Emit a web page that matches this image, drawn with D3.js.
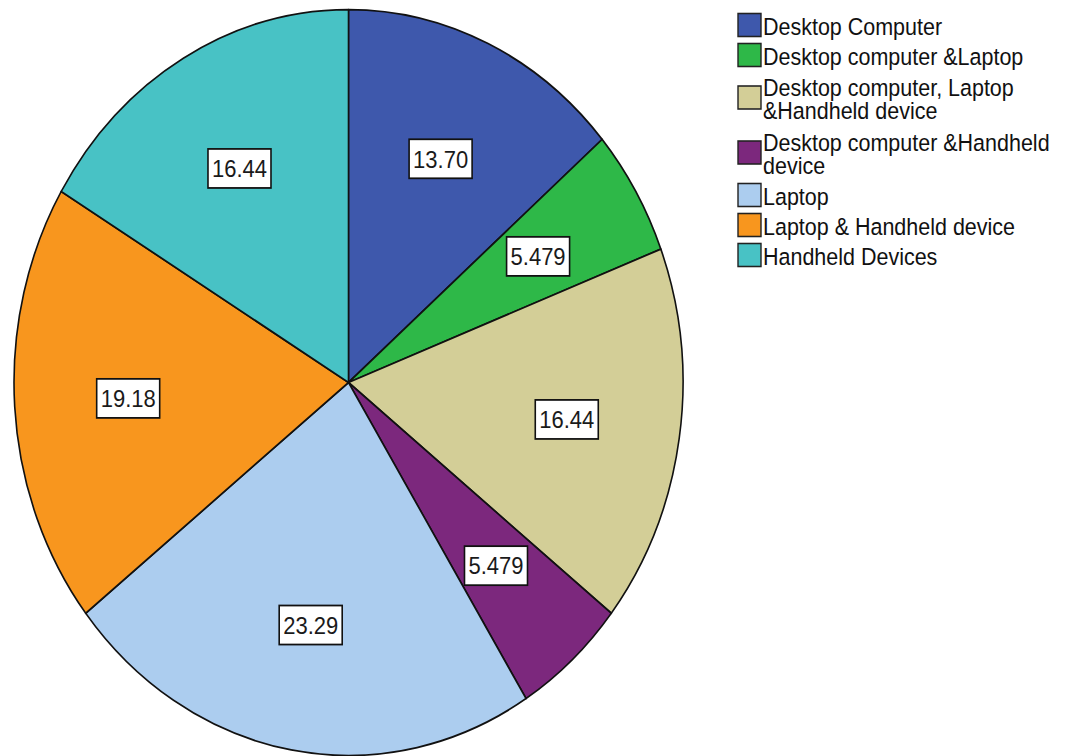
<!DOCTYPE html>
<html>
<head>
<meta charset="utf-8">
<script src="https://cdn.jsdelivr.net/npm/d3@7"></script>
<style>
  html, body { margin: 0; padding: 0; background: #fff; }
  svg { display: block; }
  text { font-family: "Liberation Sans", Arial, sans-serif; }
</style>
</head>
<body>
<svg id="chart" width="1065" height="756"></svg>
<script>
// ---- data ----
const categories = [
  "Desktop Computer",
  "Desktop computer &Laptop",
  "Desktop computer, Laptop\n&Handheld device",
  "Desktop computer &Handheld\ndevice",
  "Laptop",
  "Laptop & Handheld device",
  "Handheld Devices"
];
const values = [13.70, 5.479, 16.44, 5.479, 23.29, 19.18, 16.44];
const valueLabels = ["13.70", "5.479", "16.44", "5.479", "23.29", "19.18", "16.44"];
const colors = ["#3e58ac", "#2eb848", "#d3ce97", "#7c287d", "#accdef", "#f8961e", "#48c2c5"];

// ---- layout ----
const W = 1065, H = 756;
const SY = 1.115;               // vertical stretch of the original picture
const cx = 348.5, cy = 382.5 / SY, r = 334.5;

const svg = d3.select("#chart");
const root = svg.append("g").attr("transform", `scale(1, ${SY})`);

const pie = d3.pie().sort(null).value(d => d)
  .startAngle(0).endAngle(2 * Math.PI);
const arcs = pie(values);

const arc = d3.arc().innerRadius(0).outerRadius(r);
const labelArc = d3.arc().innerRadius(r * 0.66).outerRadius(r * 0.66);

const gPie = root.append("g").attr("transform", `translate(${cx},${cy})`);

gPie.selectAll("path.slice")
  .data(arcs)
  .enter().append("path")
  .attr("class", "slice")
  .attr("d", arc)
  .attr("fill", (d, i) => colors[i])
  .attr("stroke", "#111")
  .attr("stroke-width", 1.6)
  .attr("stroke-linejoin", "round");

// value labels in boxes
const fs = 22;
const boxW = 63, boxH = 35;
const lab = gPie.selectAll("g.lab")
  .data(arcs)
  .enter().append("g")
  .attr("class", "lab")
  .attr("transform", d => {
    const [x, y] = labelArc.centroid(d);
    return `translate(${x},${y})`;
  });
lab.append("rect")
  .attr("x", -boxW / 2).attr("y", -boxH / 2)
  .attr("width", boxW).attr("height", boxH)
  .attr("fill", "#fff")
  .attr("stroke", "#111")
  .attr("stroke-width", 1.6);
lab.append("text")
  .attr("text-anchor", "middle")
  .attr("y", fs * 0.36)
  .attr("font-size", fs)
  .attr("fill", "#1a1a1a")
  .text((d, i) => valueLabels[i]);

// ---- legend ----
const legX = 738, sw = 23 , swH = 23 / SY;
const lineGap = 23 / SY;
const legFs = 21.5;
let yCur = 10 / SY;
const gLeg = root.append("g");
categories.forEach((c, i) => {
  const lines = c.split("\n");
  const h = (30 + (lines.length - 1) * 25) / SY;
  const center = yCur + h / 2;
  const g = gLeg.append("g");
  g.append("rect")
    .attr("x", legX).attr("y", center - swH / 2)
    .attr("width", sw).attr("height", swH)
    .attr("fill", colors[i])
    .attr("stroke", "#222")
    .attr("stroke-width", 1.4);
  const base = center + 9.9 / SY * 1 - (lines.length - 1) * lineGap / 2;
  const t = g.append("text")
    .attr("x", legX + sw + 2)
    .attr("font-size", legFs)
    .attr("fill", "#111");
  lines.forEach((ln, k) => {
    t.append("tspan")
      .attr("x", legX + sw + 2)
      .attr("y", base + k * lineGap)
      .text(ln);
  });
  yCur += h;
});
</script>
</body>
</html>
